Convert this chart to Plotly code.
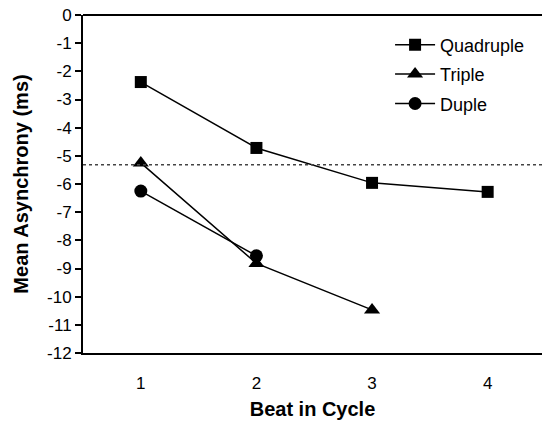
import plotly.graph_objects as go

beats = [1, 2, 3, 4]
quadruple = [-2.38, -4.72, -5.96, -6.28]
triple_beats = [1, 2, 3]
triple = [-5.25, -8.82, -10.47]
duple_beats = [1, 2]
duple = [-6.25, -8.55]
reference_level = -5.32
y_ticks = list(range(0, -13, -1))

fig = go.Figure()
line = dict(color="black", width=1.5)
fig.add_trace(go.Scatter(x=beats, y=quadruple, mode="lines+markers", name="Quadruple", legendgroup="q",
                         line=line, marker=dict(symbol="square", size=12, color="black")))
fig.add_trace(go.Scatter(x=triple_beats, y=triple, mode="lines+markers", name="Triple", legendgroup="t",
                         line=line, marker=dict(symbol="triangle-up", size=14, color="black")))
fig.add_trace(go.Scatter(x=duple_beats, y=duple, mode="lines+markers", name="Duple", legendgroup="d",
                         line=line, marker=dict(symbol="circle", size=13, color="black")))

fig.add_shape(type="line", xref="paper", x0=0, x1=1, yref="y", y0=reference_level, y1=reference_level,
              line=dict(color="#444", width=1.5, dash="dot"))

fig.update_layout(
    width=542, height=429,
    margin=dict(l=83, r=0, t=15, b=76, autoexpand=False),
    plot_bgcolor="white", paper_bgcolor="white",
    font=dict(family="Liberation Sans, Arial", size=17, color="black"),
    showlegend=True,
    legend=dict(x=0.669, y=0.966, xanchor="left", yanchor="top", bgcolor="rgba(0,0,0,0)",
                font=dict(size=18), tracegroupgap=3, itemwidth=40),
    xaxis=dict(range=[0.5, 4.47], tickvals=beats, ticktext=[str(b) for b in beats],
               showline=True, linecolor="black", linewidth=2, ticks="", showgrid=False,
               zeroline=False, ticklabelstandoff=14, tickfont=dict(size=17),
               title=dict(text="<b>Beat in Cycle</b>", font=dict(size=20), standoff=10)),
    yaxis=dict(range=[-12, 0], tickvals=y_ticks, ticktext=[str(v) for v in y_ticks],
               showline=True, linecolor="black", linewidth=2, ticks="outside", ticklen=6,
               tickwidth=1.5, tickcolor="black", showgrid=False, tickfont=dict(size=17),
               zeroline=True, zerolinecolor="black", zerolinewidth=1.5,
               title=dict(text="<b>Mean Asynchrony (ms)</b>", font=dict(size=20), standoff=13)),
)

fig.write_html("out.html")
